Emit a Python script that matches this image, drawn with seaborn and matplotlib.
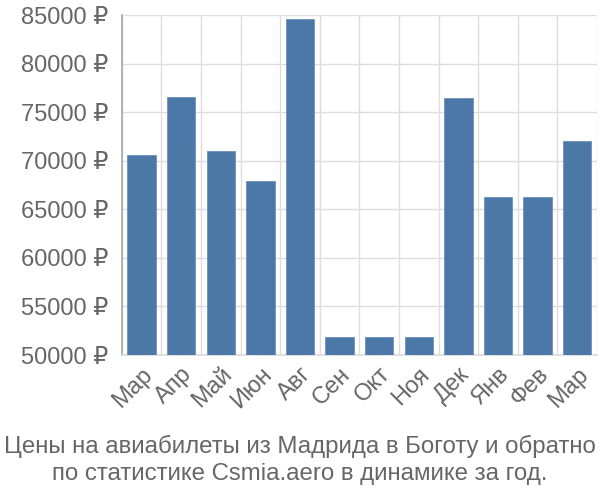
import matplotlib
matplotlib.use("Agg")
import matplotlib.pyplot as plt
import seaborn as sns
import numpy as np
import pandas as pd

months = ["Мар", "Апр", "Май", "Июн", "Авг", "Сен", "Окт", "Ноя", "Дек", "Янв", "Фев", "Мар"]
prices = [70550, 76550, 70950, 67950, 84600, 51900, 51900, 51900, 76450, 66300, 66300, 72000]
yticks = [50000, 55000, 60000, 65000, 70000, 75000, 80000, 85000]
title = "Цены на авиабилеты из Мадрида в Боготу и обратно\nпо статистике Csmia.aero в динамике за год."

sns.set_theme(style="white")
plt.rcParams['font.family'] = ['Liberation Sans', 'DejaVu Sans']

df = pd.DataFrame({"pos": [f"{i}" for i in range(len(months))], "price": prices})

fig = plt.figure(figsize=(6, 5), dpi=100)
ax = fig.add_axes([0.203, 0.29, 0.792, 0.68])
sns.barplot(data=df, x="pos", y="price", color="#4c78a8", saturation=1, width=0.72, ax=ax,
            edgecolor="#6a90bd", linewidth=0.6, zorder=3)

ax.set_ylim(50000, 85000)
ax.set_xlim(-0.5, len(months) - 0.5)
ax.set_yticks(yticks)
ax.set_yticklabels([f"{v} ₽" for v in yticks], fontsize=17, color="#666666")
ax.set_xticks(range(len(months)))
ax.set_xticklabels(months, rotation=45, ha="right", rotation_mode="anchor", fontsize=17, color="#666666")
ax.tick_params(axis="x", which="major", length=0, pad=6)
ax.tick_params(axis="y", which="major", length=8, color="#dddddd", width=1, pad=2)
ax.set_xticks(np.arange(-0.5, len(months) - 0.4, 1), minor=True)
ax.tick_params(axis="x", which="minor", length=8, color="#dddddd", width=1)
ax.grid(True, axis="y", which="major", color="#dddddd", linewidth=1, zorder=0)
ax.grid(True, axis="x", which="minor", color="#dddddd", linewidth=1, zorder=0)
ax.set_xlabel("")
ax.set_ylabel("")
for s in ["top", "right"]:
    ax.spines[s].set_visible(False)
ax.spines["left"].set_color("#aaaaaa")
ax.spines["bottom"].set_color("#dddddd")

fig.text(0.5, 0.08, title, ha="center", va="center", fontsize=17.3, color="#666666", linespacing=1.3)
fig.savefig("out.png", dpi=100)
